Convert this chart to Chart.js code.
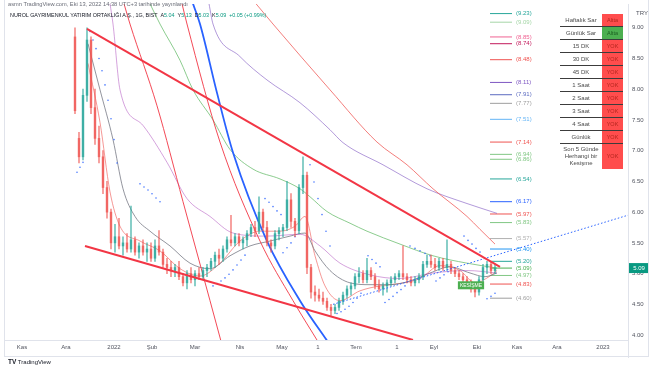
<!DOCTYPE html>
<html>
<head>
<meta charset="utf-8">
<script src="https://cdn.jsdelivr.net/npm/chart.js@4.4.1/dist/chart.umd.min.js"></script>
<style>
html, body { margin: 0; padding: 0; background: #fff; }
#wrap { position: relative; width: 654px; height: 366px; overflow: hidden; font-family: "Liberation Sans", Arial, sans-serif; }
#chart { position: absolute; left: 0; top: 0; }
.abs { position: absolute; white-space: nowrap; }
#pub { left: 8px; top: 1px; font-size: 5.7px; color: #6a6d78; }
#sym { left: 10px; top: 12px; font-size: 5.4px; color: #131722; }
#sym .v { color: #089981; }
#cur { left: 636px; top: 10px; font-size: 6px; color: #50535e; }
#logo { left: 8px; top: 358px; font-size: 6px; color: #131722; }
#logo b { font-size: 6.5px; }
#frame { position: absolute; left: 4px; top: -1px; width: 645px; height: 358px; border: 1px solid #e0e3eb; border-top: none; box-sizing: border-box; }
#sep { position: absolute; left: 628px; top: 340px; width: 1px; height: 18px; background: #e0e3eb; }
#tbl { position: absolute; left: 560px; top: 14px; border-collapse: collapse; font-size: 6px; line-height: 7px; }
#tbl td { padding: 0; height: 12px; text-align: center; color: #4a4a4a; border-top: 1px solid #3c3c3c; }
#tbl tr:first-child td { border-top: none; }
#tbl td.l { width: 42px; }
#tbl td.r { width: 21px; background: #ff4d4d; color: #b3261e; font-size: 5.5px; }
#tbl td.g { width: 21px; background: #4caf50; color: #1b5e20; font-size: 5.5px; }
#tbl tr.tall td { height: 25px; }
</style>
</head>
<body>
<div id="wrap">
  <canvas id="chart" width="654" height="366"></canvas>
  <div id="frame"></div>
  <div id="sep"></div>
  <div class="abs" id="pub">asmn TradingView.com, Eki 13, 2022 14:38 UTC+3 tarihinde yayınlandı</div>
  <div class="abs" id="sym">NUROL GAYRIMENKUL YATIRIM ORTAKLIĞI A.Ş., 1G, BIST &nbsp;A<span class="v">5.04</span> &nbsp;Y<span class="v">5.13</span> &nbsp;D<span class="v">5.03</span> &nbsp;K<span class="v">5.09</span> &nbsp;<span class="v">+0.05 (+0.99%)</span></div>
  <div class="abs" id="cur">TRY</div>
  <div class="abs" id="logo"><b>TV</b> TradingView</div>
  <table id="tbl">
    <tr><td class="l">Haftalık Sar</td><td class="r">Altta</td></tr>
    <tr><td class="l">Günlük Sar</td><td class="g">Altta</td></tr>
    <tr><td class="l">15 DK</td><td class="r">YOK</td></tr>
    <tr><td class="l">30 DK</td><td class="r">YOK</td></tr>
    <tr><td class="l">45 DK</td><td class="r">YOK</td></tr>
    <tr><td class="l">1 Saat</td><td class="r">YOK</td></tr>
    <tr><td class="l">2 Saat</td><td class="r">YOK</td></tr>
    <tr><td class="l">3 Saat</td><td class="r">YOK</td></tr>
    <tr><td class="l">4 Saat</td><td class="r">YOK</td></tr>
    <tr><td class="l">Günlük</td><td class="r">YOK</td></tr>
    <tr class="tall"><td class="l">Son 5 Günde<br>Herhangi bir<br>Kesişme</td><td class="r">YOK</td></tr>
  </table>
</div>
<script>
// daily candles, one entry per two sessions, starting early December 2021
const opens = [8.85,7.20,6.90,7.90,8.80,7.70,7.20,6.90,6.40,6.00,
  5.50,5.60,5.45,5.50,5.40,5.55,5.35,5.45,5.35,5.40,
  5.25,5.45,5.35,5.15,5.10,5.05,5.10,4.95,4.85,5.00,
  4.90,5.00,4.95,5.05,5.10,5.20,5.30,5.25,5.40,5.55,
  5.50,5.60,5.50,5.55,5.65,5.75,5.70,6.00,5.75,5.50,
  5.45,5.65,5.70,5.75,6.20,5.85,5.70,6.40,6.60,5.10,
  4.70,4.65,4.60,4.55,4.45,4.40,4.45,4.55,4.65,4.75,
  4.80,4.95,5.00,4.90,5.05,4.95,4.80,4.75,4.80,4.85,
  4.90,4.95,5.00,4.95,4.90,4.85,4.90,4.95,5.15,5.20,
  5.15,5.10,5.20,5.10,5.15,5.05,5.00,4.95,4.90,4.85,
  4.75,4.70,4.90,5.10,5.15,5.05];
const highs = [9.00,7.30,8.00,9.00,8.85,8.00,7.40,7.00,6.50,6.05,
  5.80,5.90,5.60,5.65,6.10,5.60,5.50,5.55,5.50,5.50,
  5.55,5.70,5.40,5.25,5.20,5.15,5.20,5.00,5.05,5.10,
  5.05,5.10,5.10,5.15,5.25,5.35,5.40,5.45,5.60,5.95,
  5.65,5.65,5.60,5.70,5.80,5.85,6.25,6.05,5.85,5.55,
  5.70,5.75,5.80,6.50,6.30,5.90,6.45,6.90,6.65,5.15,
  4.80,4.75,4.70,4.60,4.50,4.50,4.60,4.70,4.80,4.85,
  5.00,5.10,5.05,5.25,5.10,5.00,4.90,4.85,4.90,4.95,
  5.00,5.05,5.45,5.00,4.95,4.95,5.00,5.20,5.30,5.30,
  5.25,5.25,5.25,5.55,5.20,5.10,5.05,5.00,4.95,4.90,
  4.80,4.95,5.15,5.20,5.20,5.15];
const lows = [7.60,6.80,6.85,7.80,7.60,7.10,6.80,6.30,5.90,5.40,
  5.35,5.40,5.30,5.35,5.35,5.30,5.25,5.30,5.20,5.20,
  5.20,5.30,5.10,5.00,4.95,4.95,4.90,4.80,4.75,4.85,
  4.80,4.90,4.90,4.95,5.05,5.10,5.15,5.20,5.35,5.45,
  5.45,5.45,5.40,5.45,5.60,5.60,5.65,5.70,5.45,5.35,
  5.40,5.55,5.60,5.70,5.75,5.60,5.65,6.30,5.00,4.60,
  4.55,4.55,4.50,4.40,4.32,4.35,4.40,4.50,4.60,4.65,
  4.75,4.85,4.85,4.85,4.90,4.75,4.70,4.65,4.70,4.80,
  4.85,4.90,4.90,4.85,4.80,4.80,4.85,4.90,5.10,5.10,
  5.05,5.05,5.05,5.05,5.00,4.95,4.90,4.85,4.80,4.70,
  4.62,4.65,4.85,5.00,5.00,5.00];
const closes = [7.65,6.90,7.90,8.80,7.70,7.20,6.90,6.40,6.00,5.50,
  5.60,5.45,5.50,5.40,5.55,5.35,5.45,5.35,5.40,5.25,
  5.45,5.35,5.15,5.10,5.05,5.10,4.95,4.85,5.00,4.90,
  5.00,4.95,5.05,5.10,5.20,5.30,5.25,5.40,5.55,5.50,
  5.60,5.50,5.55,5.65,5.75,5.70,6.00,5.75,5.50,5.45,
  5.65,5.70,5.75,6.20,5.85,5.70,6.40,6.60,5.10,4.70,
  4.65,4.60,4.55,4.45,4.40,4.45,4.55,4.65,4.75,4.80,
  4.95,5.00,4.90,5.05,4.95,4.80,4.75,4.80,4.85,4.90,
  4.95,5.00,4.95,4.90,4.85,4.90,4.95,5.15,5.20,5.15,
  5.10,5.20,5.10,5.15,5.05,5.00,4.95,4.90,4.85,4.75,
  4.70,4.90,5.10,5.15,5.05,5.09];
const firstBar = 35;   // session index of the first candle
const barStep = 2;
const lastPrice = 5.09;

// moving averages / indicator curves as [session, price]
const maGreen = [[72.5,9.39],[77.5,9.06],[87.5,8.47],[94,7.99],[104,7.50],[112.5,7.02],[124,6.70],[137.5,6.54],[147.5,6.38],[152.5,6.25],[161,6.01],[172.5,5.82],[181,5.69],[197.5,5.48],[214,5.29],[231,5.17],[246,5.09]];
const maPurple = [[102,9.39],[104,9.06],[117.5,8.53],[131,8.15],[147.5,7.78],[162.5,7.34],[169,7.13],[189,6.77],[211,6.38],[231,6.14],[246,5.98]];
const maRedSlow = [[125.5,9.39],[134,9.06],[162.5,7.99],[186,7.14],[201,6.77],[214,6.38],[231,5.93],[237.5,5.72],[245,5.48]];
const steepRed1 = [[59.5,9.39],[62.5,9.06],[76,7.73],[89,6.17],[102.5,4.56],[108.5,3.84]];
const steepRed2 = [[88.5,9.39],[91,9.06],[107.5,7.14],[127.5,5.53],[144,4.56],[157.5,3.84]];
const blueLong = [[94,9.39],[97.5,9.06],[106,7.94],[114,6.97],[131,5.53],[147.5,4.56],[162.5,3.84]];
const maMauve = [[52.5,9.39],[54,9.06],[57.5,7.99],[69,7.41],[81,6.81],[91,6.22],[102.5,5.93],[114,5.66],[131,5.61],[147.5,5.64],[157.5,5.45],[167.5,5.17],[182.5,4.98],[197.5,4.92],[214,5.01],[231,5.05],[246,5.01]];
const maGray = [[41.5,8.74],[47.5,7.99],[54,7.18],[59,6.38],[65,5.93],[72.5,5.69],[82.5,5.45],[92.5,5.17],[102.5,5.08],[112.5,5.29],[122.5,5.45],[132.5,5.53],[142.5,5.61],[150,5.66],[155,5.37],[162.5,5.05],[172.5,4.85],[182.5,4.82],[192.5,4.82],[202.5,4.88],[212.5,5.01],[222.5,5.11],[232.5,5.01],[240,4.95],[246,5.01]];
const maRedFast = [[41.5,8.42],[47.5,7.46],[52.5,6.33],[57.5,5.77],[67.5,5.53],[77.5,5.37],[87.5,5.08],[97.5,4.96],[107.5,5.17],[117.5,5.53],[127.5,5.69],[137.5,5.69],[145,5.77],[150,5.93],[155,5.29],[160,4.80],[167.5,4.56],[177.5,4.72],[187.5,4.80],[197.5,4.84],[207.5,4.92],[217.5,5.13],[227.5,5.05],[235,4.85],[242.5,4.96],[246,5.05]];

// hand drawn trend lines
const resistLine = [[41,8.98],[247.5,5.11]];
const supportLine = [[40,5.45],[204,3.92]];
const riseLine = [[164,4.50],[311.5,5.95]];

// parabolic sar dots
const sarX = [36,37.5,39, 42.5,44,45.5,47,48.5,50,51.5,53,54.5,56,
  67.5,69.5,71.5,73.5,75.5,77.5,
  104,106,108,110,112,114,116,118,120,
  130,132,134,136,138,
  139,141,143,145,
  152.5,154.5,156.5,158.5,160.5,162.5,
  166,168,170,172,174,176,178,
  181.5,183.5,185.5,187.5,
  190,192,194,196,198,200,
  202.5,205,207.5,210,212.5,
  215.5,217.5,219.5,221.5,
  229.5,231.5,233.5,235.5,237.5,
  241,243,245];
const sarY = [6.65,6.73,6.81, 8.94,8.80,8.66,8.50,8.30,8.07,7.82,7.52,7.18,6.80,
  6.46,6.41,6.36,6.30,6.23,6.17,
  4.80,4.84,4.88,4.93,4.99,5.06,5.14,5.22,5.30,
  6.22,6.16,6.09,6.02,5.96,
  5.34,5.42,5.50,5.60,
  6.77,6.49,6.22,5.96,5.69,5.45,
  4.35,4.38,4.42,4.47,4.53,4.60,4.68,
  5.29,5.23,5.17,5.11,
  4.53,4.58,4.63,4.69,4.74,4.80,
  5.45,5.41,5.37,5.33,5.29,
  4.88,4.93,4.98,5.03,
  5.61,5.54,5.48,5.41,5.35,
  4.59,4.63,4.68];

// level markers on the right
const levelValues = [9.23,9.09,8.85,8.74,8.48,8.11,7.91,7.77,7.51,7.14,6.94,6.86,6.54,6.17,5.97,5.83,5.57,5.40,5.20,5.09,4.97,4.83,4.60];
const levelColors = ['#26a69a','#a5d6a7','#f06292','#c2185b','#ef5350','#7e57c2','#5c6bc0','#9e9e9e','#64b5f6','#ef5350','#81c784','#81c784','#26a69a','#2962ff','#ef5350','#81c784','#b0b0b0','#2196f3','#26a69a','#4caf50','#81c784','#ef5350','#9e9e9e'];
const levelFrom = 242.5, levelTo = 253.5, levelTextAt = 255.5;

const crossLabel = { text: 'KESİŞME', x: 233, y: 4.81 };

const monthLabels = ['Kas','Ara','2022','Şub','Mar','Nis','May','1','Tem','1','Eyl','Eki','Kas','Ara','2023'];
const monthPos = [8.5,30.5,54.5,73.5,95,117.5,138.5,156.5,175.5,196,214.5,236,256,276,299];
const priceTicks = [4,4.5,5,5.5,6,6.5,7,7.5,8,8.5,9];

const pts = arr => arr.map(p => ({ x: p[0], y: p[1] }));

function curve(data, color, width, order) {
    return { type: 'line', data: pts(data), borderColor: color, borderWidth: width,
             pointRadius: 0, fill: false, cubicInterpolationMode: 'monotone', order };
}

const barX = closes.map((c, i) => firstBar + i * barStep);
const candleCols = closes.map((c, i) => c >= opens[i] ? 'rgba(38,166,154,0.75)' : 'rgba(239,83,80,0.75)');

const datasets = [
    { type: 'line', data: pts(resistLine), borderColor: '#f23645', borderWidth: 2, pointRadius: 0, order: 0 },
    { type: 'line', data: pts(supportLine), borderColor: '#f23645', borderWidth: 2, pointRadius: 0, order: 0 },
    { type: 'line', data: pts(riseLine), borderColor: '#2962ff', borderWidth: 1, borderDash: [1.5, 2], pointRadius: 0, order: 0 },
    { type: 'bar', data: barX.map((x, i) => ({ x, y: [opens[i], closes[i]] })), backgroundColor: candleCols,
      barThickness: 1.8, minBarLength: 1, grouped: false, order: 1 },
    { type: 'bar', data: barX.map((x, i) => ({ x, y: [lows[i], highs[i]] })), backgroundColor: candleCols,
      barThickness: 0.8, grouped: false, order: 1 },
    { type: 'line', data: sarX.map((x, i) => ({ x, y: sarY[i] })), showLine: false, pointRadius: 0.8,
      pointBorderWidth: 0, pointBackgroundColor: 'rgba(41,98,255,0.85)', order: 2 },
    curve(blueLong, '#2962ff', 1.8, 3),
    curve(steepRed1, 'rgba(242,54,69,0.9)', 1, 3),
    curve(steepRed2, 'rgba(242,54,69,0.9)', 1, 3),
    curve(maRedSlow, 'rgba(239,83,80,0.75)', 1, 3),
    curve(maGreen, 'rgba(102,187,106,0.75)', 1, 3),
    curve(maPurple, 'rgba(126,87,194,0.6)', 1, 3),
    curve(maMauve, 'rgba(171,71,188,0.5)', 1, 3),
    curve(maGray, 'rgba(120,123,134,0.8)', 1, 3),
    curve(maRedFast, 'rgba(239,83,80,0.6)', 1, 3)
];
levelValues.forEach((v, i) => {
    datasets.push({ type: 'line', data: [{ x: levelFrom, y: v }, { x: levelTo, y: v }],
                    borderColor: levelColors[i], borderWidth: 1, pointRadius: 0, order: 4 });
});

const overlayText = {
    id: 'overlayText',
    afterDatasetsDraw(chart) {
        const { ctx, scales: { x, y } } = chart;
        ctx.save();
        ctx.font = '6px "Liberation Sans", Arial, sans-serif';
        ctx.textBaseline = 'middle';
        levelValues.forEach((v, i) => {
            ctx.fillStyle = levelColors[i];
            ctx.fillText('(' + v.toFixed(2) + ')', x.getPixelForValue(levelTextAt), y.getPixelForValue(v));
        });
        // crossing label
        const cx = x.getPixelForValue(crossLabel.x), cy = y.getPixelForValue(crossLabel.y);
        ctx.font = '5px "Liberation Sans", Arial, sans-serif';
        const w = ctx.measureText(crossLabel.text).width + 4;
        ctx.fillStyle = '#4caf50';
        ctx.fillRect(cx - w / 2, cy - 4, w, 8);
        ctx.fillStyle = '#fff';
        ctx.textAlign = 'center';
        ctx.fillText(crossLabel.text, cx, cy);
        ctx.restore();
    },
    afterDraw(chart) {
        const { ctx, chartArea, scales: { y } } = chart;
        const py = y.getPixelForValue(lastPrice);
        ctx.save();
        ctx.fillStyle = '#089981';
        ctx.fillRect(chartArea.right + 1, py - 5, 20, 10);
        ctx.fillStyle = '#fff';
        ctx.font = '6px "Liberation Sans", Arial, sans-serif';
        ctx.textBaseline = 'middle';
        ctx.textAlign = 'center';
        ctx.fillText(lastPrice.toFixed(2), chartArea.right + 11, py);
        ctx.restore();
    }
};

new Chart(document.getElementById('chart'), {
    type: 'bar',
    data: { datasets },
    options: {
        responsive: false,
        animation: false,
        devicePixelRatio: 1,
        events: [],
        layout: { padding: { left: 5, right: 0, top: 0, bottom: 0 } },
        plugins: { legend: { display: false }, tooltip: { enabled: false } },
        scales: {
            x: {
                type: 'linear', min: 0, max: 311.5, offset: false,
                grid: { color: 'transparent', drawTicks: false },
                border: { color: '#e0e3eb' },
                afterBuildTicks: s => { s.ticks = monthPos.map(v => ({ value: v })); },
                afterFit: s => { s.height = 26; s.paddingLeft = 0; s.paddingRight = 0; },
                ticks: { autoSkip: false, maxRotation: 0, padding: 4, color: '#50535e',
                         font: { size: 6, family: '"Liberation Sans", Arial, sans-serif' },
                         callback: (v, i) => monthLabels[i] }
            },
            y: {
                position: 'right', min: 3.92, max: 9.386,
                grid: { color: 'transparent', drawTicks: false },
                border: { color: '#e0e3eb' },
                afterBuildTicks: s => { s.ticks = priceTicks.map(v => ({ value: v })); },
                afterFit: s => { s.width = 26; s.paddingTop = 0; s.paddingBottom = 0; },
                ticks: { padding: 4, color: '#50535e',
                         font: { size: 6, family: '"Liberation Sans", Arial, sans-serif' },
                         callback: v => v.toFixed(2) }
            }
        }
    },
    plugins: [overlayText]
});
</script>
</body>
</html>
